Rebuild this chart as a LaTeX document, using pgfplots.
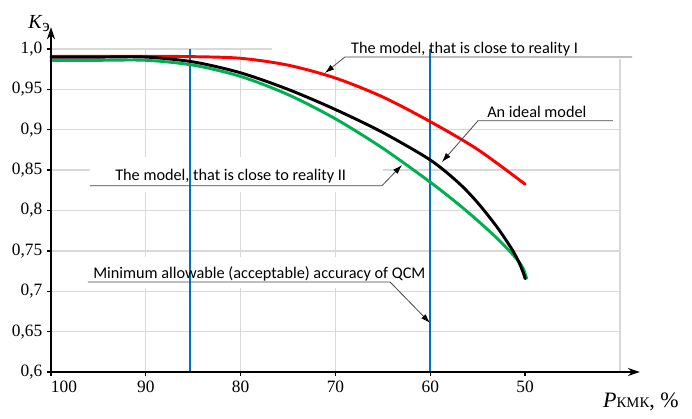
\documentclass[border=0pt]{standalone}
\usepackage{fontspec}
\setmainfont{Liberation Serif}
\newfontfamily\calfont{Carlito}
\usepackage{pgfplots}
\pgfplotsset{compat=1.18}
\usetikzlibrary{arrows.meta}
\definecolor{cred}{RGB}{255,0,0}
\definecolor{cgreen}{RGB}{0,176,80}
\definecolor{cblue}{RGB}{0,112,192}
\definecolor{cgrid}{RGB}{217,217,217}
\definecolor{cann}{RGB}{70,70,70}
\begin{document}
\begin{tikzpicture}
\path[use as bounding box] (-38.25pt,-34.5pt) rectangle (480.75pt,279pt);
\begin{axis}[
  scale only axis, width=426.75pt, height=242.25pt,
  x dir=reverse, xmin=40, xmax=100, ymin=0.6, ymax=1.0,
  axis lines*=left, axis line style={draw=none}, clip=false,
  tick align=outside, major tick length=3pt,
  tick style={black, line width=1pt},
  xtick={50,60,70,80,90,100},
  xticklabels={50,60,70,80,90,\makebox[0pt][l]{100}},
  extra x ticks={40,70,80,90},
  extra x tick labels={,,,},
  extra x tick style={grid=major, major tick length=0pt},
  ytick={0.6,0.65,0.7,0.75,0.8,0.85,0.9,0.95,1.0},
  yticklabels={{0,6\hspace{0.25em}},{0,65},{0,7},{0,75},{0,8\hspace{0.5em}},{0,85},{0,9\hspace{0.5em}},{0,95},{1,0\hspace{0.25em}}},
  ymajorgrids=true,
  grid style={cgrid, line width=1pt},
  tick label style={font=\fontsize{13}{15}\selectfont},
  /pgf/number format/assume math mode=true,
]
% white boxes behind annotations
\fill[white] (axis cs:76.7,1.0297) rectangle (axis cs:37.8,0.9876);
\fill[white] (axis cs:95.89,0.8663) rectangle (axis cs:64.99,0.8229);
\fill[white] (axis cs:96.1,0.7424) rectangle (axis cs:64.25,0.7040);
% blue vertical lines
\addplot[cblue, line width=1.5pt] coordinates {(85.3,0.6) (85.3,1.0)};
\addplot[cblue, line width=1.5pt] coordinates {(60,0.6) (60,1.0)};
% red: model close to reality I
\addplot[cred, line width=2.2pt, smooth, line cap=round] coordinates {
 (100,0.991) (95,0.991) (90,0.991) (85,0.9905) (80,0.9885) (75,0.980)
 (70,0.964) (65,0.9405) (60,0.910) (55,0.8755) (50,0.8325)};
% green: model close to reality II
\addplot[cgreen, line width=2.2pt, smooth, line cap=round] coordinates {
 (100,0.986) (95,0.986) (90,0.986) (85,0.980) (80,0.966) (75,0.9435)
 (70,0.9135) (65,0.877) (60,0.835) (57,0.8074) (55,0.7874) (53,0.766)
 (51.5,0.748) (50.7,0.737) (50.2,0.728) (49.84,0.716)};
% black: ideal model
\addplot[black, line width=2.2pt, smooth, line cap=round] coordinates {
 (100,0.990) (95,0.990) (90,0.990) (85,0.984) (80,0.9705) (75,0.950)
 (70,0.925) (65,0.8965) (60,0.8625) (57,0.834) (55,0.8095) (53,0.780)
 (51.5,0.754) (50.7,0.737) (50.2,0.723) (50.0,0.7155)};
% annotations
\draw[cann, line width=0.6pt, -{Latex[length=7pt,width=4.5pt,black]}]
  (axis cs:38.73,0.9901) -- (axis cs:69.0,0.9901) -- (axis cs:71.11,0.9703);
\node[anchor=base west, inner sep=0, font=\calfont\fontsize{12.2}{14}\selectfont]
  at (axis cs:68.37,0.9944) {The model, that is close to reality I};
\draw[cann, line width=0.6pt, -{Latex[length=7pt,width=4.5pt,black]}]
  (axis cs:40.74,0.9112) -- (axis cs:54.97,0.9112) -- (axis cs:58.77,0.860);
\node[anchor=base west, inner sep=0, font=\calfont\fontsize{12.2}{14}\selectfont]
  at (axis cs:54.02,0.9155) {An ideal model};
\draw[cann, line width=0.6pt, -{Latex[length=7pt,width=4.5pt,black]}]
  (axis cs:95.89,0.8307) -- (axis cs:65.10,0.8307) -- (axis cs:62.99,0.8563);
\node[anchor=base west, inner sep=0, font=\calfont\fontsize{12.2}{14}\selectfont]
  at (axis cs:93.25,0.8375) {The model, that is close to reality II};
\draw[cann, line width=0.6pt, -{Latex[length=7pt,width=4.5pt,black]}]
  (axis cs:96.1,0.7115) -- (axis cs:64.25,0.7115) -- (axis cs:60.03,0.6607);
\node[anchor=base west, inner sep=0, font=\calfont\fontsize{12.2}{14}\selectfont]
  at (axis cs:95.57,0.7164) {Minimum allowable (acceptable) accuracy of QCM};
% axis lines with arrows
\draw[black, line width=1.5pt, -{Stealth[length=9pt,width=6pt]}]
  (axis cs:100,0.6) -- (axis cs:37.9,0.6);
\draw[black, line width=1.5pt, -{Stealth[length=9pt,width=6pt]}]
  (axis cs:100,0.6) -- (axis cs:100,1.027);
% axis labels
\node[anchor=base west, inner sep=0] at (axis description cs:-0.0404,1.065)
  {\fontsize{15}{15}\selectfont\textit{K}\raisebox{-0.35ex}{\fontsize{13}{13}\selectfont э}};
\node[anchor=base west, inner sep=0] at (axis description cs:0.9701,-0.1084)
  {\fontsize{16.5}{17}\selectfont\textit{P}{\fontsize{11}{11}\selectfont КМК}, \%};
\end{axis}
\end{tikzpicture}
\end{document}
